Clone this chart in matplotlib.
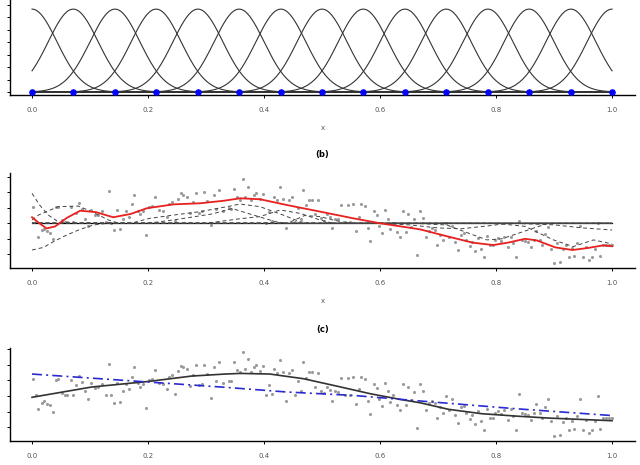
import numpy as np
import matplotlib.pyplot as plt

# ---- datos del panel (a): centros de las bases gaussianas ----
centros = [0.0, 0.071, 0.143, 0.214, 0.286, 0.357, 0.429, 0.5,
           0.571, 0.643, 0.714, 0.786, 0.857, 0.929, 1.0]
ancho = 0.043

# ---- puntos observados (mismos en (b) y (c)) ----
x_obs = [0.001, 0.007, 0.011, 0.017, 0.021, 0.025, 0.031, 0.037, 0.041, 0.045,
         0.051, 0.056, 0.060, 0.067, 0.071, 0.076, 0.081, 0.087, 0.091, 0.096,
         0.102, 0.109, 0.114, 0.121, 0.127, 0.132, 0.137, 0.142, 0.147, 0.152,
         0.157, 0.162, 0.167, 0.172, 0.176, 0.182, 0.187, 0.191, 0.197, 0.202,
         0.206, 0.212, 0.219, 0.226, 0.232, 0.236, 0.241, 0.247, 0.252, 0.257,
         0.261, 0.267, 0.272, 0.278, 0.282, 0.288, 0.293, 0.297, 0.302, 0.308,
         0.313, 0.317, 0.323, 0.329,
         0.339, 0.343, 0.348, 0.353, 0.358, 0.363, 0.368, 0.373, 0.378, 0.383,
         0.387, 0.393, 0.398, 0.403, 0.408, 0.413, 0.418, 0.423, 0.428, 0.433,
         0.438, 0.443, 0.448, 0.453, 0.458, 0.463, 0.468, 0.472, 0.477, 0.482,
         0.488, 0.493, 0.498, 0.503, 0.508, 0.513, 0.518, 0.523, 0.528, 0.533,
         0.539, 0.544, 0.548, 0.554, 0.559, 0.564, 0.568, 0.574, 0.579, 0.583,
         0.589, 0.594, 0.599, 0.604, 0.609, 0.614, 0.618, 0.623, 0.629, 0.635,
         0.639, 0.644, 0.649, 0.654, 0.659, 0.664,
         0.669, 0.674, 0.679, 0.684, 0.689, 0.694, 0.699, 0.704, 0.709, 0.714,
         0.719, 0.724, 0.729, 0.734, 0.740, 0.744, 0.749, 0.755, 0.759, 0.764,
         0.769, 0.774, 0.779, 0.784, 0.789, 0.794, 0.799, 0.804, 0.809, 0.814,
         0.820, 0.825, 0.830, 0.834, 0.840, 0.844, 0.850, 0.855, 0.860, 0.865,
         0.869, 0.875, 0.880, 0.884, 0.890, 0.895, 0.900, 0.905, 0.910, 0.915,
         0.920, 0.925, 0.931, 0.935, 0.940, 0.945, 0.950, 0.955, 0.960, 0.965,
         0.971, 0.975, 0.980, 0.984, 0.989, 0.994, 1.000]
y_obs = [1.08, 0.09, -0.86, -0.43, -0.34, -0.51, -0.60, -1.03, 1.04, 1.08,
         0.22, 0.09, 0.09, 1.04, 0.09, 0.69, 1.30, 0.91, 0.30, -0.17,
         0.86, 0.52, 0.56, 0.78, 0.09, 2.07, 0.05, -0.43, 0.86, -0.38,
         0.30, 0.78, 0.43, 1.23, 1.83, 0.82, 0.60, 0.78, -0.77, 1.04,
         1.12, 1.70, 0.86, 0.78, 0.43, 1.25, 1.34, 0.13, 1.59, 1.94,
         1.85, 1.72, 0.65, 1.34, 1.98, 0.69, 0.80, 2.02, 1.42, -0.13,
         1.85, 0.95, 2.15, 0.82,
         0.99, 0.95, 2.20, 1.68, 1.51, 2.84, 1.72, 2.37, 1.51, 1.85,
         1.98, 1.59, 1.90, 0.05, 0.73, 0.13, 1.72, 1.47, 2.33, 1.55,
         -0.30, 1.47, 1.68, 0.09, 0.99, 0.30, 2.15, 1.16, 1.51, 1.51,
         0.61, 1.47, 0.35, 0.17, 0.61, 0.39, -0.30, 0.30, 0.26, 1.16,
         0.09, 1.16, 0.09, 1.25, -0.51, 0.43, 1.25, 1.12, -0.30, -1.12,
         0.78, 0.52, -0.17, -0.64, 0.86, 0.30, -0.38, 0.05, -0.56, -0.90,
         0.78, -0.56, 0.61, -0.26, 0.26, -2.02,
         0.77, 0.34, -0.90, -0.47, -0.30, -0.43, -1.42, -0.73, -1.08, 0.00,
         -0.90, -0.17, -1.20, -1.72, -0.73, -0.65, -1.08, -1.46, -1.20, -1.76,
         -0.95, -1.63, -2.15, -0.82, -1.38, -1.42, -1.08, -0.95, -1.12, -0.90,
         -1.55, -0.86, -1.25, -2.19, 0.13, -1.08, -1.12, -1.20, -1.55, -1.08,
         -0.52, -1.08, -1.38, -0.69, -0.22, -1.63, -2.58, -1.29, -2.49, -1.68,
         -1.38, -2.19, -1.59, -2.11, -1.29, -0.17, -2.15, -1.55, -2.37, -2.15,
         -1.63, 0.00, -2.11, -1.42, -1.42, -1.38, -1.38]

# ---- (b) ajuste con todas las bases (rojo) ----
x_rojo = [0.000, 0.012, 0.025, 0.040, 0.060, 0.083, 0.110, 0.140, 0.170, 0.198,
          0.244, 0.290, 0.330, 0.359, 0.393, 0.439, 0.497, 0.554, 0.600, 0.669,
          0.718, 0.760, 0.795, 0.820, 0.850, 0.870, 0.902, 0.932, 0.960, 0.985, 1.000]
y_rojo = [0.39, 0.02, -0.33, -0.20, 0.35, 0.81, 0.72, 0.39, 0.60, 0.97,
          1.22, 1.29, 1.45, 1.61, 1.55, 1.18, 0.75, 0.32, 0.00, -0.39,
          -0.86, -1.25, -1.40, -1.25, -1.00, -1.10, -1.55, -1.72, -1.58, -1.42, -1.48]

# ---- (b) contribuciones de cada base (discontinuas) ----
comp_x = [
    [0, 0.013, 0.028, 0.045, 0.06, 1.0],
    [0, 0.02, 0.037, 0.06, 0.083, 0.106, 0.13, 1.0],
    [0, 0.011, 0.045, 0.08, 0.103, 0.132, 0.15, 1.0],
    [0, 0.17, 0.203, 0.244, 0.29, 0.336, 0.359, 0.393, 0.433, 0.462, 0.48, 1.0],
    [0, 0.2, 0.25, 0.31, 0.345, 0.38, 0.42, 0.44, 1.0],
    [0, 0.30, 0.36, 0.393, 0.428, 0.462, 0.497, 0.52, 1.0],
    [0, 0.44, 0.47, 0.497, 0.52, 0.548, 1.0],
    [0, 0.66, 0.715, 0.75, 0.784, 0.81, 0.864, 0.89, 1.0],
    [0, 0.80, 0.85, 0.899, 0.933, 0.968, 1.0],
    [0, 0.83, 0.90, 0.95, 1.0],
    [0, 0.60, 0.65, 0.70, 0.74, 0.79, 0.82, 1.0],
]
comp_y = [
    [1.93, 1.18, 0.53, 0.10, 0, 0],
    [-1.72, -1.55, -1.18, -0.75, -0.39, -0.11, 0, 0],
    [0.21, 0.53, 1.07, 1.11, 0.75, 0.21, 0, 0],
    [0, 0, 0.32, 0.53, 0.75, 1.07, 1.24, 1.07, 0.53, 0.10, 0, 0],
    [0, 0, 0.25, 0.60, 0.95, 0.55, 0.10, 0, 0],
    [0, 0, 0.30, 0.43, 0.86, 0.64, 0.21, 0, 0],
    [0, 0, 0.50, 0.43, 0.20, 0, 0],
    [0, 0, -0.11, -0.60, -1.07, -1.00, -0.32, 0, 0],
    [0, 0, -0.20, -1.07, -1.50, -1.07, -1.33],
    [0, 0, -0.10, -0.30, -0.43],
    [0, 0, -0.10, -0.30, -0.35, -0.15, 0, 0],
]

# ---- (c) ajuste suave (negro) y ajuste lineal (azul) ----
x_suave = [0.0, 0.103, 0.202, 0.275, 0.333, 0.359, 0.410, 0.468, 0.525, 0.583,
           0.634, 0.669, 0.718, 0.775, 0.833, 0.890, 0.948, 1.0]
y_suave = [-0.08, 0.58, 0.94, 1.28, 1.41, 1.45, 1.41, 1.11, 0.64, 0.15,
           -0.21, -0.43, -0.85, -1.13, -1.28, -1.41, -1.50, -1.58]
x_lineal = [0.0, 0.333, 0.439, 0.554, 0.657, 0.833, 1.0]
y_lineal = [1.41, 0.56, 0.26, 0.04, -0.28, -0.81, -1.25]

x_ticks = [0.0, 0.2, 0.4, 0.6, 0.8, 1.0]
x_labels = ["0.0", "0.2", "0.4", "0.6", "0.8", "1.0"]

gris_pto = "#9a9a9a"
gris_txt = "#555555"


def estilo(ax, yticks, ylim):
    # ejes en forma de L como en R
    ax.spines["top"].set_visible(False)
    ax.spines["right"].set_visible(False)
    ax.spines["left"].set_linewidth(1.0)
    ax.spines["bottom"].set_linewidth(1.0)
    ax.set_xlim(-0.038, 1.04)
    ax.set_ylim(*ylim)
    ax.set_xticks(x_ticks)
    ax.set_xticklabels(x_labels)
    ax.set_yticks(yticks)
    ax.set_yticklabels([])
    ax.tick_params(axis="x", length=2.5, width=0.7, pad=6, labelsize=5, labelcolor=gris_txt)
    ax.tick_params(axis="y", length=2.5, width=0.7)


fig = plt.figure(figsize=(6.4, 4.65), dpi=100)

ax_a = fig.add_axes([0.0156, 0.7957, 0.977, 0.2043])
ax_b = fig.add_axes([0.0156, 0.4243, 0.977, 0.2030])
ax_c = fig.add_axes([0.0156, 0.0516, 0.977, 0.1994])

# (a) bases gaussianas
xx = np.linspace(0, 1, 500)
for c in centros:
    ax_a.plot(xx, np.exp(-(xx - c) ** 2 / (2 * ancho ** 2)), color="#333333", lw=0.8)
ax_a.scatter(centros, np.zeros(len(centros)), color="blue", s=14, zorder=5)
estilo(ax_a, np.arange(0, 1.06, 0.15), (-0.036, 1.11))
ax_a.set_xlabel("x", fontsize=5, color=gris_txt, labelpad=9)

# (b) contribuciones + ajuste
ax_b.scatter(x_obs, y_obs, color=gris_pto, s=5, lw=0)
ax_b.plot([0, 1], [0, 0], color="black", lw=0.9)
for cx, cy in zip(comp_x, comp_y):
    ax_b.plot(cx, cy, color="#444444", lw=0.7, ls=(0, (4, 3)))
ax_b.plot(x_rojo, y_rojo, color="#e8201e", lw=1.3)
estilo(ax_b, [-2, -1, 0, 1, 2, 3], (-2.86, 3.22))
ax_b.set_xlabel("x", fontsize=5, color=gris_txt, labelpad=9)
ax_b.set_title("(b)", fontsize=6, fontweight="bold", pad=12)

# (c) ajuste suave vs lineal
ax_c.scatter(x_obs, y_obs, color=gris_pto, s=5, lw=0)
ax_c.plot(x_suave, y_suave, color="#333333", lw=1.2)
ax_c.plot(x_lineal, y_lineal, color="#2a2ad0", lw=1.2, ls=(0, (6, 2.5, 1.2, 2.5)))
estilo(ax_c, [-2, -1, 0, 1, 2, 3], (-2.88, 3.06))
ax_c.set_title("(c)", fontsize=6, fontweight="bold", pad=12)

fig.savefig("out.png", dpi=100)
